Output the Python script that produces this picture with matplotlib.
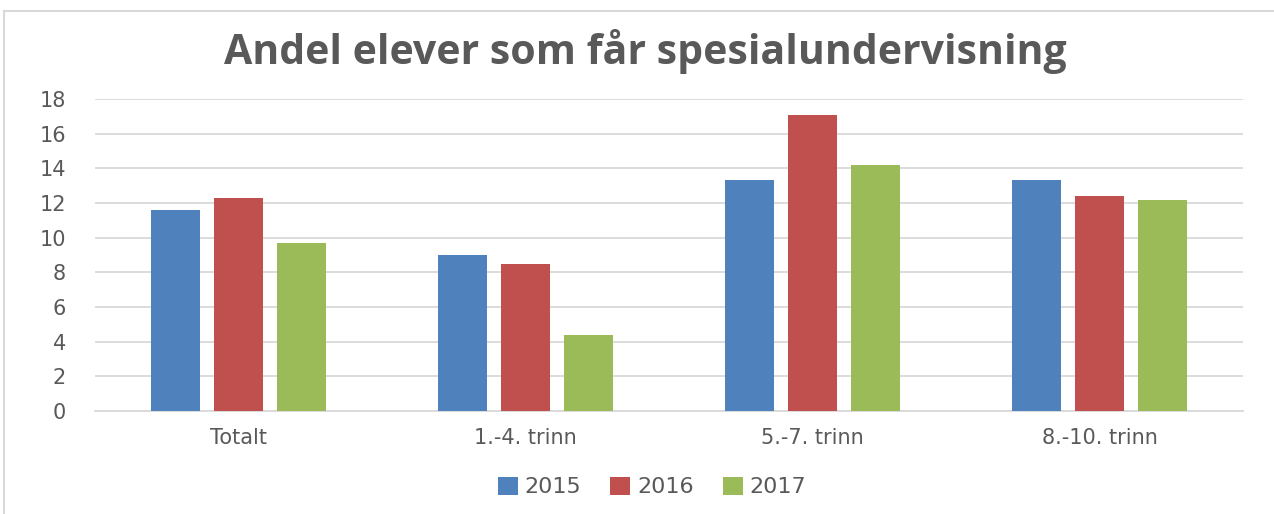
import matplotlib
matplotlib.use("Agg")
import matplotlib.pyplot as plt
import numpy as np
from matplotlib.patches import Rectangle

categories = ["Totalt", "1.-4. trinn", "5.-7. trinn", "8.-10. trinn"]
years = ["2015", "2016", "2017"]
v2015 = [11.6, 9.0, 13.3, 13.3]
v2016 = [12.3, 8.5, 17.1, 12.4]
v2017 = [9.7, 4.4, 14.2, 12.2]
yticks = [0, 2, 4, 6, 8, 10, 12, 14, 16, 18]

colors = ["#4F81BD", "#C0504D", "#9BBB59"]
text_color = "#595959"

plt.rcParams['font.family'] = ['DejaVu Sans']

fig = plt.figure(figsize=(12.74, 5.14), dpi=100)
fig.patch.set_facecolor("white")
# outer frame
fig.add_artist(Rectangle((4/1274, -0.01), 1.0, (514-11)/514 + 0.01, transform=fig.transFigure,
                         fill=False, edgecolor="#D9D9D9", linewidth=1.5))

ax = fig.add_axes([95/1274, (514-411)/514, (1243-95)/1274, (411-99)/514])
x = np.arange(len(categories))
w = 0.171
step = 0.22
series = [v2015, v2016, v2017]
for i, (vals, c, yr) in enumerate(zip(series, colors, years)):
    ax.bar(x + (i - 1) * step, vals, width=w, color=c, label=yr, zorder=3)

ax.set_xlim(-0.5, len(categories) - 0.5)
ax.set_ylim(0, 18)
ax.set_yticks(yticks)
ax.set_yticklabels([str(t) for t in yticks])
ax.set_xticks(x)
ax.set_xticklabels(categories)
ax.tick_params(axis='both', length=0, labelsize=15, colors=text_color)
ax.tick_params(axis='y', pad=21)
ax.tick_params(axis='x', pad=12)
ax.grid(axis='y', color="#D9D9D9", linewidth=1.3, zorder=0)
for s in ["top", "right", "left"]:
    ax.spines[s].set_visible(False)
ax.spines["bottom"].set_color("#D9D9D9")
ax.spines["bottom"].set_linewidth(1.3)

fig.text(645/1274, (514-51)/514, "Andel elever som får spesialundervisning",
         ha="center", va="center", fontsize=29.5, fontweight="bold", color=text_color,
         family="Open Sans")

fig.legend(loc="center", bbox_to_anchor=(652/1274, (514-487)/514), ncol=3, frameon=False,
           fontsize=16, handlelength=0.9, handleheight=0.9, handletextpad=0.3,
           columnspacing=1.3, labelcolor=text_color)

fig.savefig("out.png", dpi=100)
